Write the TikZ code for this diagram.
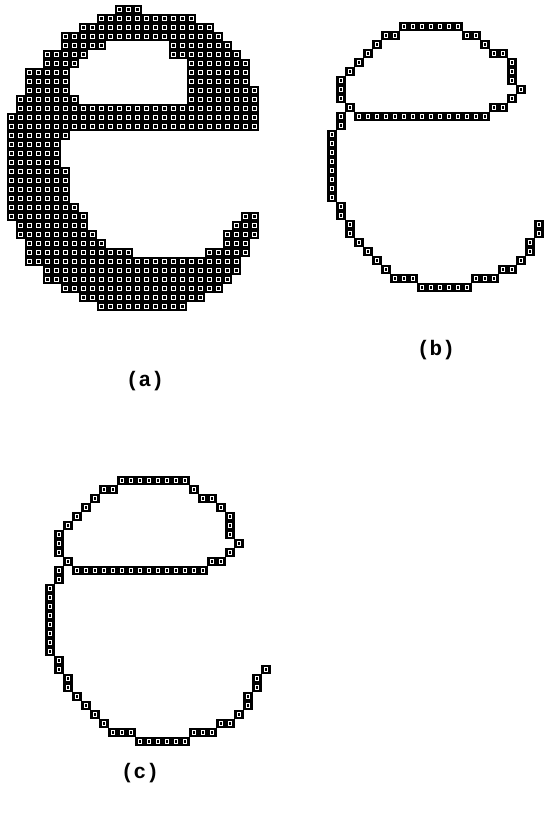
\documentclass[tikz,border=0pt]{standalone}
\usepackage{fontspec}
\setmonofont{Liberation Mono}

% one raster cell: black square with a white ring inside
\newcommand\epix[2]{%
  \fill[cellbox] ({#1*\pitch-4.7},{#2*\pitch-4.7}) rectangle ++(9.4,9.4);
  \draw[cellring] ({#1*\pitch-1.9},{#2*\pitch-1.9}) rectangle ++(3.8,3.8);}

\begin{document}
\begin{tikzpicture}[
  x=1pt, y=-1pt,
  cellbox/.style={fill=black},
  cellring/.style={draw=white, line width=0.9pt},
  lbl/.style={font=\ttfamily\bfseries\fontsize{21}{24}\selectfont},
]

\def\pitch{9}
\useasboundingbox (0,0) rectangle (547,817);

%% ── (a) filled letter: row/first/last ───────────────
\begin{scope}[shift={(11.5,9.5)}]
  \foreach \r/\a/\b in {0/12/14, 1/10/20, 2/8/22, 3/6/23,
      4/6/10, 4/18/24, 5/4/8, 5/18/25, 6/4/7, 6/20/26,
      7/2/6, 7/20/26, 8/2/6, 8/20/26, 9/2/6, 9/20/27,
      10/1/7, 10/20/27, 11/1/27, 12/0/27, 13/0/27,
      14/0/6, 15/0/5, 16/0/5, 17/0/5, 18/0/6, 19/0/6,
      20/0/6, 21/0/6, 22/0/7, 23/0/8, 23/26/27,
      24/1/8, 24/25/27, 25/1/9, 25/24/27, 26/2/10, 26/24/26,
      27/2/13, 27/22/26, 28/2/25, 29/4/25, 30/4/24,
      31/6/23, 32/8/21, 33/10/19}
    \foreach \c in {\a,...,\b} \epix{\c}{\r};
\end{scope}

%% ── (b) contour ─────────────────────────────────────
\begin{scope}[shift={(332,26.7)}]
  \foreach \r/\a/\b in {0/8/14, 1/6/7, 1/15/16, 2/5/5, 2/17/17,
      3/4/4, 3/18/19, 4/3/3, 4/20/20, 5/2/2, 5/20/20,
      6/1/1, 6/20/20, 7/1/1, 7/21/21, 8/1/1, 8/20/20,
      9/2/2, 9/18/19, 10/1/1, 10/3/17, 11/1/1,
      12/0/0, 13/0/0, 14/0/0, 15/0/0, 16/0/0, 17/0/0,
      18/0/0, 19/0/0, 20/1/1, 21/1/1, 22/2/2, 22/23/23,
      23/2/2, 23/23/23, 24/3/3, 24/22/22, 25/4/4, 25/22/22,
      26/5/5, 26/21/21, 27/6/6, 27/19/20, 28/7/9, 28/16/18,
      29/10/15}
    \foreach \c in {\a,...,\b} \epix{\c}{\r};
\end{scope}

%% ── (c) thinned contour ─────────────────────────────
\begin{scope}[shift={(50,480.7)}]
  \foreach \r/\a/\b in {0/8/15, 1/6/7, 1/16/16, 2/5/5, 2/17/18,
      3/4/4, 3/19/19, 4/3/3, 4/20/20, 5/2/2, 5/20/20,
      6/1/1, 6/20/20, 7/1/1, 7/21/21, 8/1/1, 8/20/20,
      9/2/2, 9/18/19, 10/1/1, 10/3/17, 11/1/1,
      12/0/0, 13/0/0, 14/0/0, 15/0/0, 16/0/0, 17/0/0,
      18/0/0, 19/0/0, 20/1/1, 21/1/1, 21/24/24,
      22/2/2, 22/23/23, 23/2/2, 23/23/23, 24/3/3, 24/22/22,
      25/4/4, 25/22/22, 26/5/5, 26/21/21, 27/6/6, 27/19/20,
      28/7/9, 28/16/18, 29/10/15}
    \foreach \c in {\a,...,\b} \epix{\c}{\r};
\end{scope}

%% ── captions ────────────────────────────────────────
\node[lbl] (capa) at (145,381) {(a)};
\node[lbl] (capb) at (436,350) {(b)};
\node[lbl] (capc) at (140,773) {(c)};

\end{tikzpicture}
\end{document}
